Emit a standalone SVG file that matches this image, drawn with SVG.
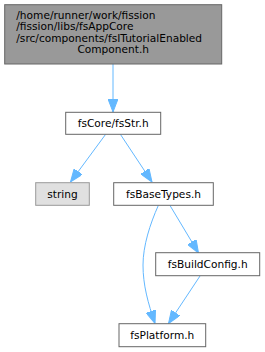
<svg xmlns="http://www.w3.org/2000/svg" width="265" height="352" viewBox="0 0 265 352">
<defs>
<style>
.n rect{stroke-width:1}
.main rect{fill:#999999;stroke:#666666}
.std rect{fill:#ffffff;stroke:#666666}
.ext rect{fill:#e0e0e0;stroke:#999999}
text{font-family:"DejaVu Sans","Liberation Sans",sans-serif;font-size:10.6px;fill:#000000}
.c{text-anchor:middle}
.e path{fill:none;stroke:#63b8ff;stroke-width:1;marker-end:url(#ah)}
</style>
<marker id="ah" markerUnits="userSpaceOnUse" viewBox="0 0 13 10" markerWidth="13" markerHeight="10" refX="13" refY="5" orient="auto">
<path d="M0,0 L13,5 L0,10 z" fill="#63b8ff" stroke="#63b8ff"/>
</marker>
</defs>
<rect width="265" height="352" fill="#ffffff"/>
<g id="edges" class="e">
<path d="M113,64 L113,112"/>
<path d="M105.5,134.5 L70.5,182"/>
<path d="M120.5,134.5 L152,182"/>
<path d="M158.3,205.5 C150,224 143,246 143,265 C143,285 148,303 155,323.5"/>
<path d="M170,205.5 L198.5,253"/>
<path d="M200,276 L168.5,323.5"/>
</g>
<g id="node1" class="n main">
<rect x="4.7" y="4.7" width="217" height="59.3"/>
<text x="16.3" y="18.5">/home/runner/work/fission</text>
<text x="16.3" y="30">/fission/libs/fsAppCore</text>
<text x="16.3" y="41.5">/src/components/fsITutorialEnabled</text>
<text x="113.2" y="53" class="c">Component.h</text>
</g>
<g id="node2" class="n std">
<rect x="65.7" y="112.3" width="95" height="22"/>
<text x="113.2" y="127" class="c">fsCore/fsStr.h</text>
</g>
<g id="node3" class="n ext">
<rect x="35.7" y="182.7" width="53.6" height="22.6"/>
<text x="62.5" y="197.5" class="c">string</text>
</g>
<g id="node4" class="n std">
<rect x="113.7" y="182.7" width="99.6" height="22.6"/>
<text x="163.5" y="197.5" class="c">fsBaseTypes.h</text>
</g>
<g id="node5" class="n std">
<rect x="155.7" y="252.7" width="104" height="23"/>
<text x="207.7" y="267.7" class="c">fsBuildConfig.h</text>
</g>
<g id="node6" class="n std">
<rect x="119" y="323.7" width="86.7" height="23"/>
<text x="162.3" y="338.7" class="c">fsPlatform.h</text>
</g>
</svg>
